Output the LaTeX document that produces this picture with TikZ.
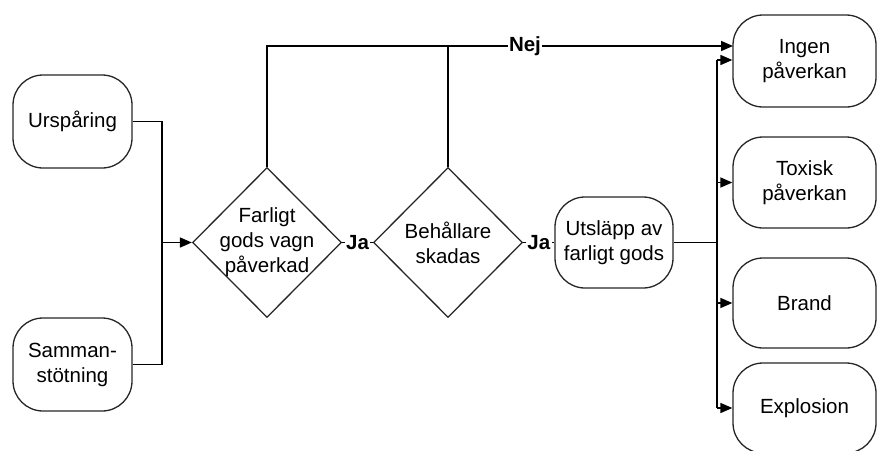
\documentclass[tikz,border=0pt]{standalone}
\usepackage{fontspec}
\setmainfont{Liberation Sans}
\usetikzlibrary{shapes.geometric,arrows.meta}
\begin{document}
\begin{tikzpicture}[x=1pt,y=-1pt,
  every node/.style={font=\fontsize{20.5}{25}\selectfont, align=center, inner sep=0pt},
  rbox/.style={draw=black!85, line width=1.3pt, rounded corners=30pt, rectangle},
  dbox/.style={draw=black!85, line width=1.3pt, diamond, minimum width=149pt, minimum height=150pt},
  dtext/.style={font=\fontsize{20.5}{25}\selectfont, align=center},
  conn/.style={line width=1.6pt},
  arr/.style={conn, -{Triangle[length=12pt,width=10pt]}},
  lbl/.style={fill=white, font=\fontsize{20.5}{25}\selectfont\bfseries, inner sep=1.5pt}]
\useasboundingbox (0,0) rectangle (877,450);
% nodes
\node[rbox, minimum width=119pt, minimum height=93pt] (urs) at (72.5,121.5) {Urspåring};
\node[rbox, minimum width=119pt, minimum height=93pt] (sam) at (72.5,364.5) {Samman-\\stötning};
\node[dbox, label={[dtext]center:Farligt\\gods vagn\\påverkad}] (d1) at (267,242.5) {};
\node[dbox, label={[dtext]center:Behållare\\skadas}] (d2) at (448,242.5) {};
\node[rbox, minimum width=118pt, minimum height=91pt] (utl) at (614,242.5) {Utsläpp av\\farligt gods};
\node[rbox, minimum width=143pt, minimum height=92pt] (ing) at (804.5,61) {Ingen\\påverkan};
\node[rbox, minimum width=143pt, minimum height=91pt] (tox) at (804.5,182.5) {Toxisk\\påverkan};
\node[rbox, minimum width=143pt, minimum height=90pt] (bra) at (804.5,303) {Brand};
\node[rbox, minimum width=143pt, minimum height=90pt] (exp) at (804.5,408) {Explosion};
% coordinates
\coordinate (jl) at (162,242.5);
\coordinate (top1) at (267,46);
\coordinate (top2) at (448,46);
\coordinate (nejend) at (733,46);
\coordinate (jr) at (717,242.5);
\coordinate (jrtop) at (717,60);
\coordinate (jrbot) at (717,408);
% left connectors
\draw[conn] (urs.east) -| (jl);
\draw[conn] (sam.east) -| (jl);
\draw[arr] (jl) -- (d1.west);
% Nej line
\draw[conn] (d1.north) -- (top1) -- (top2);
\draw[conn] (d2.north) -- (top2);
\draw[arr] (top2) -- node[lbl, pos=0.27] {Nej} (nejend);
% Ja connectors
\draw[conn] (d1.east) -- node[lbl] {Ja} (d2.west);
\draw[conn] (d2.east) -- node[lbl] {Ja} (utl.west);
% right fan
\draw[conn] (utl.east) -- (jr);
\draw[conn] (jrtop) -- (jrbot);
\draw[arr] (jrtop) -- (jrtop -| ing.west);
\draw[arr] (jr |- tox.west) -- (tox.west);
\draw[arr] (jr |- bra.west) -- (bra.west);
\draw[arr] (jrbot) -- (jrbot -| exp.west);
\end{tikzpicture}
\end{document}
